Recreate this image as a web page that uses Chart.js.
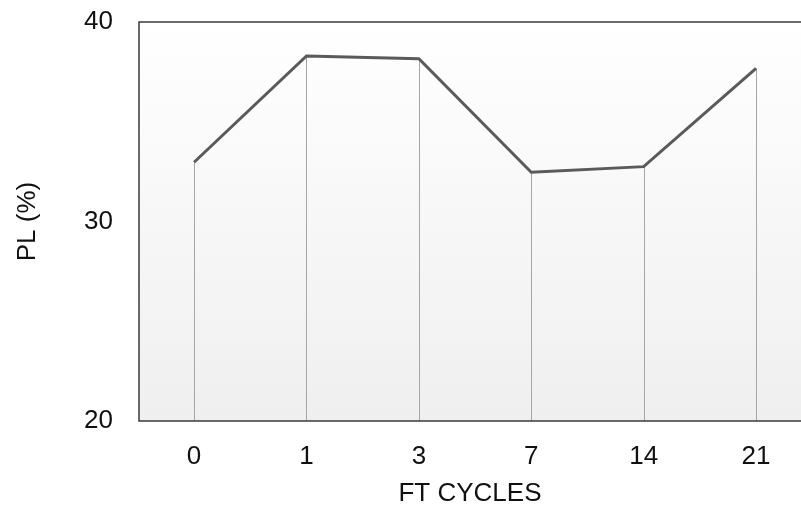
<!DOCTYPE html>
<html>
<head>
<meta charset="utf-8">
<script src="https://cdn.jsdelivr.net/npm/chart.js@4/dist/chart.umd.min.js"></script>
<style>
  html, body { margin: 0; padding: 0; background: #fff; overflow: hidden; }
  #wrap { width: 801px; height: 512px; }
</style>
</head>
<body>
<div id="wrap"><canvas id="pl-chart" width="801" height="512"></canvas></div>
<script>
/* ── PL vs freeze-thaw cycles ── */
const cycles   = ['0', '1', '3', '7', '14', '21'];
const plValues = [32.97, 38.3, 38.16, 32.47, 32.75, 37.68];
const yTicks   = [20, 30, 40];

const FONT = "'Liberation Sans', Arial, sans-serif";
const txtClr = '#111';

// gradient fill + frame + drop lines from each point to the floor
const plotDeco = {
  id: 'plotDeco',
  beforeDatasetsDraw(chart) {
    const {ctx, chartArea: a} = chart;
    ctx.save();
    const g = ctx.createLinearGradient(0, a.top, 0, a.bottom);
    g.addColorStop(0, '#ffffff');
    g.addColorStop(1, '#efefef');
    ctx.fillStyle = g;
    ctx.fillRect(a.left, a.top, a.right - a.left, a.bottom - a.top);

    ctx.strokeStyle = '#a6a6a6';
    ctx.lineWidth = 1;
    chart.getDatasetMeta(0).data.forEach(pt => {
      const x = Math.round(pt.x) + 0.5;
      ctx.beginPath();
      ctx.moveTo(x, pt.y);
      ctx.lineTo(x, a.bottom);
      ctx.stroke();
    });

    ctx.strokeStyle = '#3a3a3a';
    ctx.lineWidth = 1.5;
    ctx.beginPath();
    ctx.moveTo(a.right + 2, a.top);
    ctx.lineTo(a.left, a.top);
    ctx.lineTo(a.left, a.bottom);
    ctx.lineTo(a.right + 2, a.bottom);
    ctx.stroke();
    ctx.restore();
  }
};

new Chart(document.getElementById('pl-chart').getContext('2d'), {
  type: 'line',
  plugins: [plotDeco],
  data: {
    datasets: [{
      data: plValues.map((v, i) => ({ x: i, y: v })),
      borderColor: '#5a5a5a',
      borderWidth: 3,
      pointRadius: 0,
      tension: 0,
      fill: false
    }]
  },
  options: {
    responsive: false,
    animation: false,
    layout: { padding: { top: 22, left: 0, right: 0, bottom: 0 } },
    plugins: { legend: { display: false }, tooltip: { enabled: false } },
    scales: {
      x: {
        type: 'linear',
        min: -0.49,
        max: 5.4,
        afterBuildTicks: s => { s.ticks = cycles.map((c, i) => ({ value: i })); },
        afterFit: s => { s.height = 91; s.paddingLeft = 0; s.paddingRight = 0; },
        grid: { display: false },
        border: { display: false },
        ticks: {
          color: txtClr, padding: 12, maxRotation: 0,
          font: { size: 26, family: FONT },
          callback: v => cycles[v]
        },
        title: {
          display: true, text: 'FT CYCLES', color: txtClr,
          font: { size: 26, family: FONT }, padding: { top: 2, bottom: 3 }
        }
      },
      y: {
        min: 20,
        max: 40,
        afterBuildTicks: s => { s.ticks = yTicks.map(v => ({ value: v })); },
        afterFit: s => { s.width = 139; s.paddingTop = 0; s.paddingBottom = 0; },
        grid: { display: false },
        border: { display: false },
        ticks: {
          color: txtClr, padding: 18,
          font: { size: 26, family: FONT }
        },
        title: {
          display: true, text: 'PL (%)', color: txtClr,
          font: { size: 26, family: FONT }, padding: { top: 12 }
        }
      }
    }
  }
});
</script>
</body>
</html>
